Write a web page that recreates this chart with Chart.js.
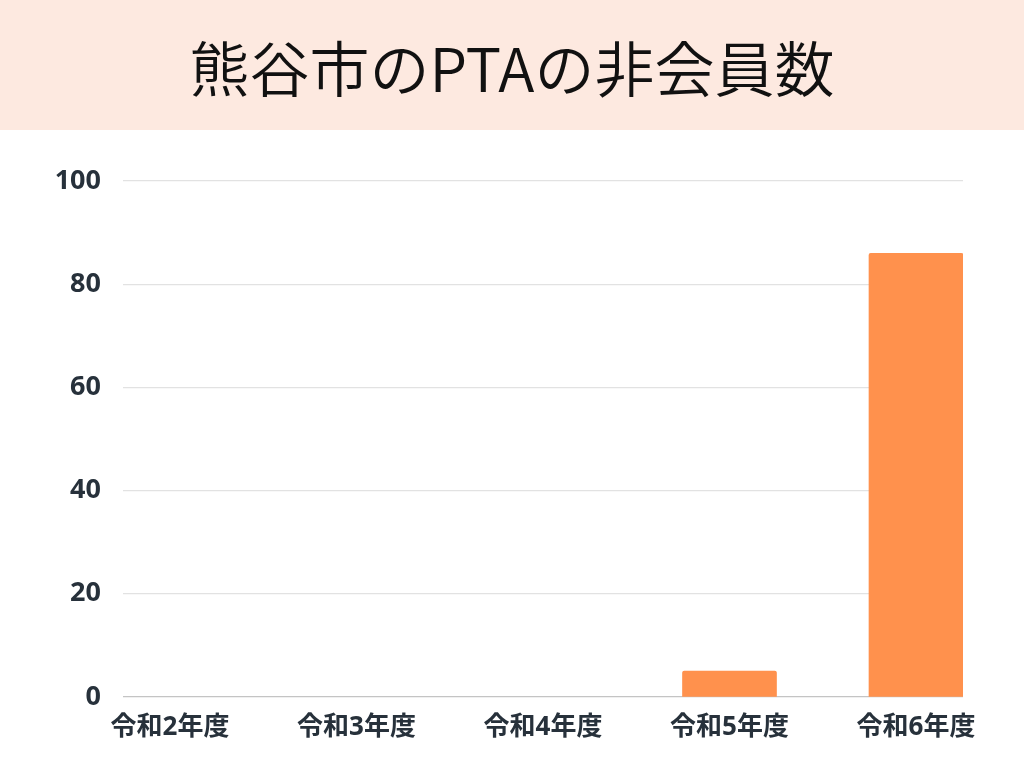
<!DOCTYPE html>
<html lang="ja">
<head>
<meta charset="utf-8">
<script src="https://cdn.jsdelivr.net/npm/chart.js@4"></script>
<style>
  html, body { margin: 0; padding: 0; background: #fff; }
  #head {
    height: 130px;
    background: #fde9e0;
    display: flex;
    align-items: center;
    justify-content: center;
    font-family: "Noto Sans CJK JP", sans-serif;
    font-weight: 350;
    font-size: 60px;
    color: #111;
  }
  #wrap { width: 1024px; height: 638px; position: relative; }
</style>
</head>
<body>
<div id="head">熊谷市のPTAの非会員数</div>
<div id="wrap"><canvas id="grafico"></canvas></div>
<script>
// dados
const nendo = ["令和2年度", "令和3年度", "令和4年度", "令和5年度", "令和6年度"]
const hikaiin = [0, 0, 0, 5, 86]
const yTicks = [0, 20, 40, 60, 80, 100]

const pontos = nendo.map((n, i) => ({ x: i, y: hikaiin[i] }))

const fonteEixo = { family: "'Noto Sans', 'Noto Sans CJK JP', sans-serif", weight: "bold" }

new Chart(document.getElementById("grafico"), {
    type: "bar",
    data: {
        datasets: [{
            data: pontos,
            // barras com valor 0 nao aparecem no original
            backgroundColor: c => c.raw && c.raw.y ? "#ff914d" : "rgba(0,0,0,0)",
            borderRadius: 2,
            borderSkipped: "bottom",
            barThickness: 94
        }]
    },
    options: {
        responsive: true,
        maintainAspectRatio: false,
        animation: false,
        layout: { padding: { top: 51, right: 61, bottom: 0, left: 0 } },
        plugins: { legend: { display: false }, tooltip: { enabled: false } },
        scales: {
            x: {
                type: "linear",
                min: -0.252,
                max: nendo.length - 1 + 0.252,
                offset: false,
                grid: { display: false, drawTicks: false },
                border: { display: false },
                afterFit: s => { s.height = 71 },
                ticks: {
                    stepSize: 1,
                    includeBounds: false,
                    autoSkip: false,
                    maxRotation: 0,
                    padding: 15,
                    color: "#27313b",
                    font: { ...fonteEixo, size: 26 },
                    callback: v => Number.isInteger(v) && nendo[v] ? nendo[v] : ""
                }
            },
            y: {
                min: yTicks[0],
                max: yTicks[yTicks.length - 1],
                afterFit: s => { s.width = 123 },
                afterBuildTicks: s => { s.ticks = yTicks.map(v => ({ value: v })) },
                grid: {
                    drawTicks: false,
                    color: c => c.tick && c.tick.value === 0 ? "#c4c4c4" : "#e2e2e2",
                    lineWidth: 1.2
                },
                border: { display: false },
                ticks: {
                    padding: 22,
                    color: "#27313b",
                    font: { ...fonteEixo, size: 27 }
                }
            }
        }
    }
})
</script>
</body>
</html>
